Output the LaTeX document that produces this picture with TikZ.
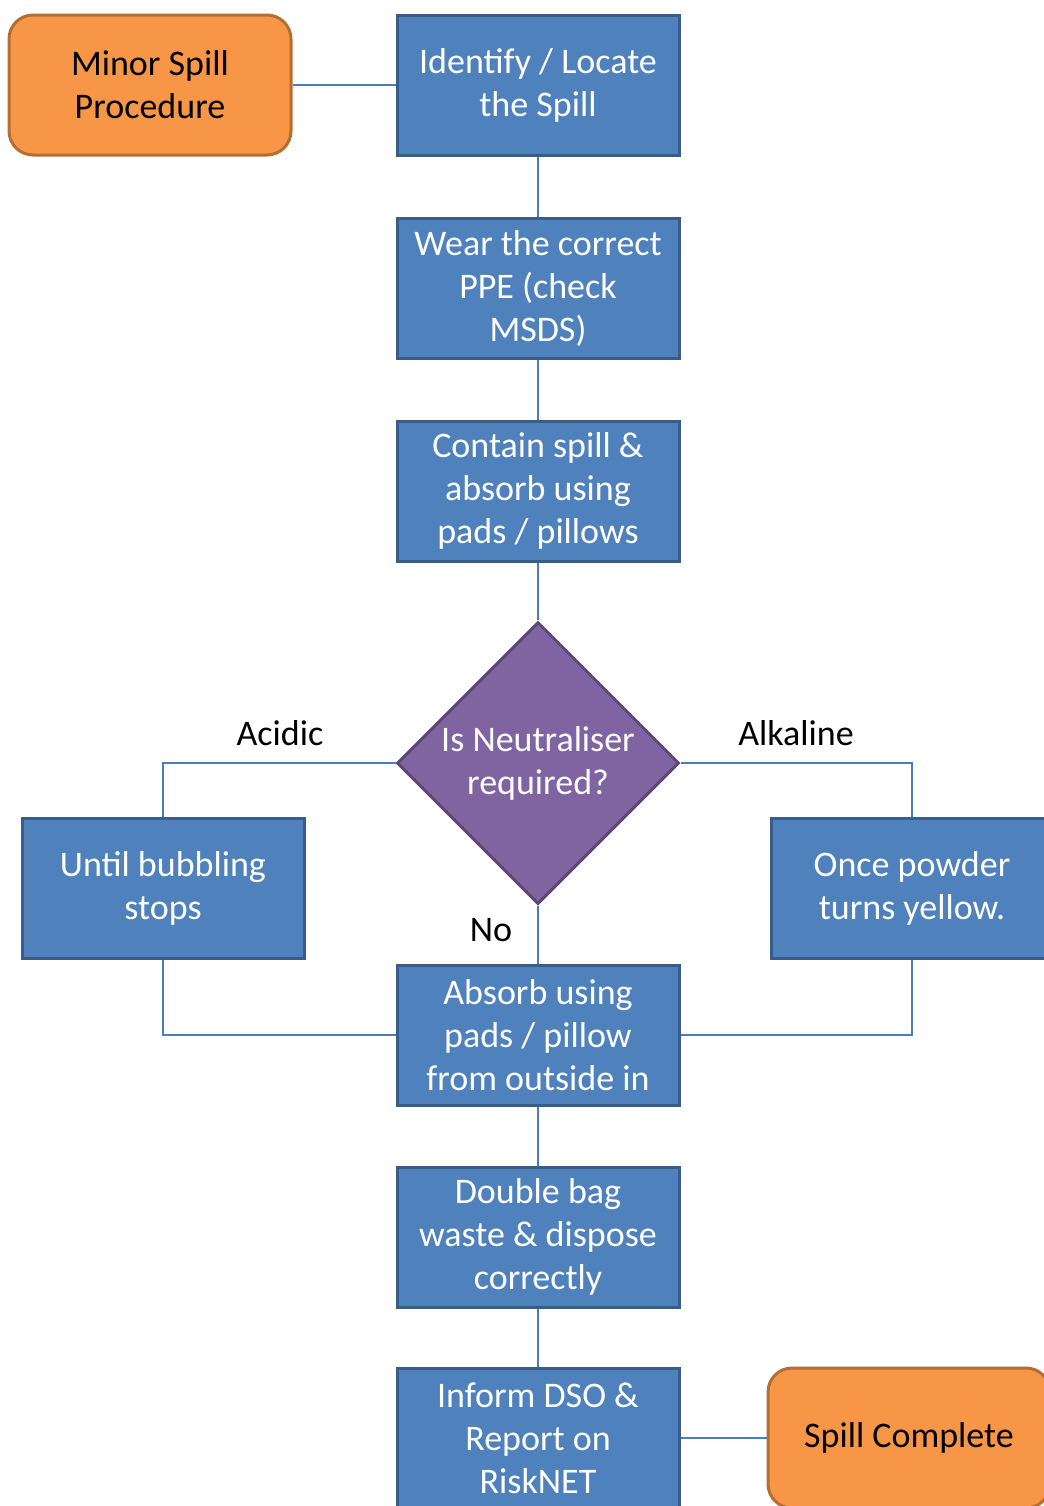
\documentclass[tikz,border=0pt]{standalone}
\usepackage{fontspec}
\setmainfont{Carlito}
\usepackage{xcolor}
\usepackage{tikz}
\usetikzlibrary{positioning, shapes.geometric}
\definecolor{stepblue}{HTML}{4F81BD}
\definecolor{stepedge}{HTML}{385D8A}
\definecolor{endorange}{HTML}{F79646}
\definecolor{endedge}{HTML}{B66D31}
\definecolor{decpurple}{HTML}{8064A2}
\definecolor{decedge}{HTML}{5C4776}
\definecolor{linkblue}{HTML}{4A7EBB}
\newcommand{\spillfont}{\fontsize{18}{21.5}\selectfont}
\tikzset{
  stepbox/.style={draw=stepedge, line width=1.5pt, fill=stepblue, text=white, align=center,
                  font=\spillfont, minimum width=141pt, minimum height=70pt, inner sep=2pt},
  endbox/.style={stepbox, draw=endedge, fill=endorange, text=black, rounded corners=12pt},
  decision/.style={draw=decedge, line width=1.5pt, fill=decpurple, diamond, aspect=1,
                   minimum size=141pt, inner sep=0pt, text=white, align=center, font=\spillfont},
  link/.style={draw=linkblue, line width=0.75pt},
  branchlabel/.style={font=\spillfont, text=black, inner sep=1pt}
}

\begin{document}
\begin{tikzpicture}[
  x=0.5pt, y=-0.5pt,
  node distance=30pt,
]
\useasboundingbox (0,0) rectangle (1044,1506);

% Main column
\node[stepbox] (identify) at (538,85) {Identify / Locate\\the Spill};
\node[stepbox] (wear)     [below=of identify] {Wear the correct\\PPE (check\\MSDS)};
\node[stepbox] (contain)  [below=of wear]     {Contain spill \&\\absorb using\\pads / pillows};
\node[decision] (neutral) [below=29pt of contain] {Is Neutraliser\\required?};
\node[stepbox] (absorb)   [below=29pt of neutral] {Absorb using\\pads / pillow\\from outside in};
\node[stepbox] (bag)      [below=29.5pt of absorb]  {Double bag\\waste \& dispose\\correctly};
\node[stepbox] (inform)   [below=29pt of bag] {Inform DSO \&\\Report on\\RiskNET};

% Start / end
\node[endbox] (minor)    [left=51.5pt of identify] {Minor Spill\\Procedure};
\node[endbox] (complete) [right=43pt of inform]  {Spill Complete};

% Branches
\node[stepbox] (bubbling) at (163,888) {Until bubbling\\stops};
\node[stepbox] (powder)   at (912,888) {Once powder\\turns yellow.};

\node[branchlabel] (acidic)   at (280,733) {Acidic};
\node[branchlabel] (alkaline) at (796,733) {Alkaline};
\node[branchlabel] (no)       at (491,930) {No};

% Links
\draw[link] (minor) -- (identify);
\draw[link] (identify) -- (wear);
\draw[link] (wear) -- (contain);
\draw[link] (contain) -- (neutral);
\draw[link] (neutral) -- (absorb);
\draw[link] (neutral.west) -| (bubbling.north);
\draw[link] (neutral.east) -| (powder.north);
\draw[link] (bubbling.south) |- (absorb.west);
\draw[link] (powder.south) |- (absorb.east);
\draw[link] (absorb) -- (bag);
\draw[link] (bag) -- (inform);
\draw[link] (inform) -- (complete);

\end{tikzpicture}
\end{document}
